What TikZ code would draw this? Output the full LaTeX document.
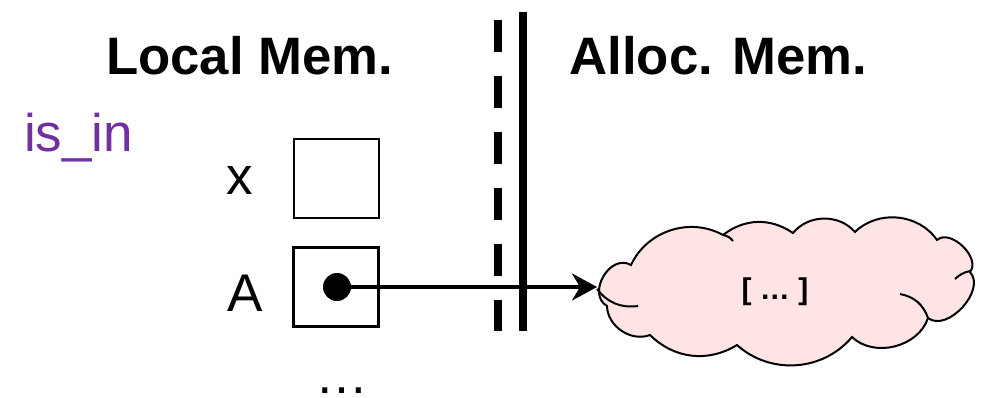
\documentclass[tikz,border=0pt]{standalone}
\usepackage{fontspec}
\setmainfont{Liberation Sans}
\usetikzlibrary{arrows.meta}
\definecolor{ispurple}{HTML}{7030A0}
\definecolor{cloudpink}{HTML}{FFE4E6}
\begin{document}
\begin{tikzpicture}[x=1pt,y=-1pt,
  lbl/.style={font=\fontsize{53}{60}\selectfont, inner sep=0pt, anchor=base},
  hdr/.style={font=\fontsize{52.7}{60}\selectfont\bfseries, inner sep=0pt, anchor=base},
  cell/.style={draw=black, line width=2.2pt, minimum width=85pt, minimum height=79pt, inner sep=0pt},
  ptr/.style={circle, fill=black, minimum size=28pt, inner sep=0pt},
  link/.style={line width=3.5pt, -{Stealth[length=25pt,width=27pt,inset=8pt]}},
  wall/.style={line width=7.5pt},
  cloudline/.style={draw=black, line width=2pt},
  cloudtext/.style={font=\fontsize{30}{32}\selectfont\bfseries, inner sep=0pt, anchor=base}
]
\useasboundingbox (0,0) rectangle (989,398);

% headers and labels
\node[hdr] (local) at (249.5,75) {Local Mem.};
\node[hdr] (alloc) at (718.5,75) {Alloc. Mem.};
\node[lbl, anchor=base west, text=ispurple] (isin) at (24,152) {is\_in};
\node[lbl] (xl) at (240,195) {x};
\node[lbl] (al) at (245,312) {A};
\node[lbl] (dots) at (342,393) {…};

% memory cells
\node[cell] (xbox) at (336.5,178.8) {};
\node[cell] (abox) at (336,287) {};
\node[ptr] (ptr) at (337,287) {};

% boundary walls
\coordinate (dtop) at (498,20);
\coordinate (dbot) at (498,331);
\coordinate (stop) at (523,12);
\coordinate (sbot) at (523,331);
\draw[wall, dash pattern=on 32pt off 24pt] (dtop) -- (dbot);
\draw[wall] (stop) -- (sbot);

% cloud
\filldraw[cloudline, fill=cloudpink]
  (631,265) to[bend left=47] (723,235)
  to[bend left=36] (793,233)
  to[bend left=50] (855,232)
  to[bend left=50] (937,240)
  to[bend left=85] (970,272)
  to[bend left=85] (928,318)
  to[bend left=58] (852,337)
  to[bend left=46] (737,345)
  to[bend left=38] (650,335)
  to[bend left=55] (607,306)
  to[bend left=90, looseness=1.3] (631,265) -- cycle;
\draw[cloudline] (638,306) to[bend left=30] (597,289);
\draw[cloudline] (900,294) to[bend left=30] (928,318);
\draw[cloudline] (970,271) to[bend right=15] (955,279);
\draw[cloudline] (723,235) to[bend left=20] (733,241);
\node[cloudtext] (memtext) at (775,300) {[ … ]};
\coordinate (cloudtip) at (597,287);

% pointer
\draw[link] (ptr.center) -- (cloudtip);
\end{tikzpicture}
\end{document}
